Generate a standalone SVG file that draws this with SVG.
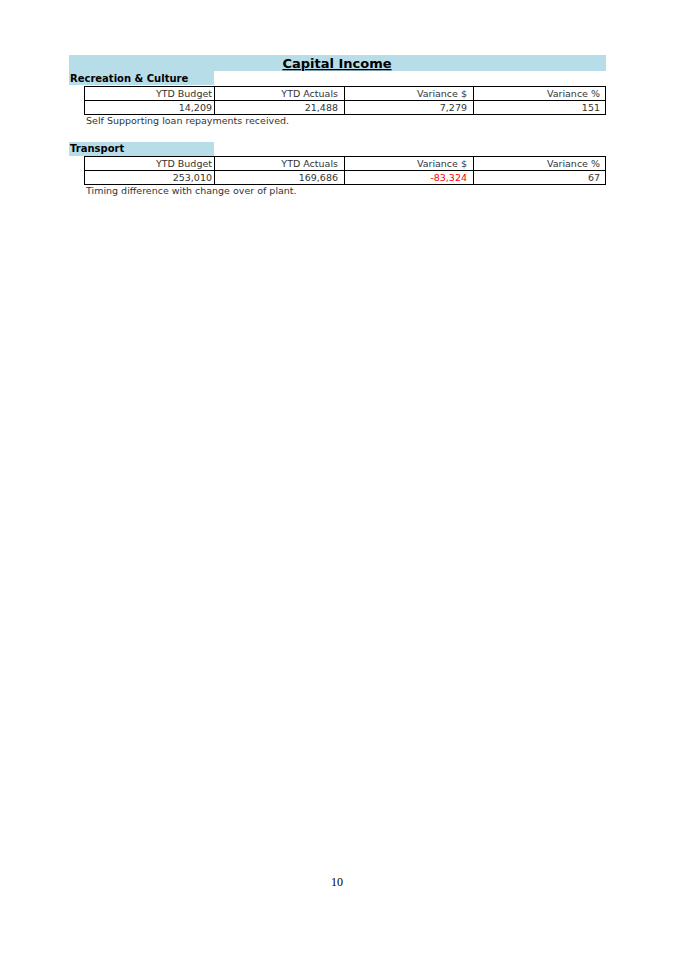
<svg xmlns="http://www.w3.org/2000/svg" width="675" height="954" viewBox="0 0 675 954">
<style>
.band{fill:#b7dde8}
.cell{fill:none;stroke:#000;stroke-width:1}
.t{font-family:"DejaVu Sans",Verdana,sans-serif;font-size:9.5px;fill:#333}
.r{text-anchor:end}
.h{font-family:"DejaVu Sans",Verdana,sans-serif;font-weight:bold;font-size:10px;fill:#000}
</style>
<rect width="675" height="954" fill="#fff"/>
<g id="title">
<rect class="band" x="69" y="55" width="537" height="16"/>
<text x="337" y="68" text-anchor="middle" font-family="DejaVu Sans,Verdana,sans-serif" font-weight="bold" font-size="13px" text-decoration="underline" fill="#000">Capital Income</text>
</g>
<g id="rec">
<rect class="band" x="69" y="71" width="145" height="14"/>
<text class="h" x="70" y="82">Recreation &amp; Culture</text>
<rect class="cell" x="84.5" y="86.5" width="521" height="28"/>
<line class="cell" x1="84.5" y1="100.5" x2="605.5" y2="100.5"/>
<line class="cell" x1="214.5" y1="86.5" x2="214.5" y2="114.5"/>
<line class="cell" x1="344.5" y1="86.5" x2="344.5" y2="114.5"/>
<line class="cell" x1="473.5" y1="86.5" x2="473.5" y2="114.5"/>
<text class="t r" x="212" y="97">YTD Budget</text>
<text class="t r" x="338" y="97">YTD Actuals</text>
<text class="t r" x="467" y="97">Variance $</text>
<text class="t r" x="600" y="97">Variance %</text>
<text class="t r" x="212" y="111">14,209</text>
<text class="t r" x="338" y="111">21,488</text>
<text class="t r" x="467" y="111">7,279</text>
<text class="t r" x="600" y="111">151</text>
<text class="t" x="86" y="124">Self Supporting loan repayments received.</text>
</g>
<g id="transport">
<rect class="band" x="69" y="142" width="145" height="14"/>
<text class="h" x="70" y="152">Transport</text>
<rect class="cell" x="84.5" y="156.5" width="521" height="28"/>
<line class="cell" x1="84.5" y1="170.5" x2="605.5" y2="170.5"/>
<line class="cell" x1="214.5" y1="156.5" x2="214.5" y2="184.5"/>
<line class="cell" x1="344.5" y1="156.5" x2="344.5" y2="184.5"/>
<line class="cell" x1="473.5" y1="156.5" x2="473.5" y2="184.5"/>
<text class="t r" x="212" y="167">YTD Budget</text>
<text class="t r" x="338" y="167">YTD Actuals</text>
<text class="t r" x="467" y="167">Variance $</text>
<text class="t r" x="600" y="167">Variance %</text>
<text class="t r" x="212" y="181">253,010</text>
<text class="t r" x="338" y="181">169,686</text>
<text class="t r" x="467" y="181" style="fill:#ff0000">-83,324</text>
<text class="t r" x="600" y="181">67</text>
<text class="t" x="86" y="194">Timing difference with change over of plant.</text>
</g>
<text x="337" y="886" text-anchor="middle" font-family="Liberation Serif,serif" font-size="12px" fill="#000">10</text>
</svg>
